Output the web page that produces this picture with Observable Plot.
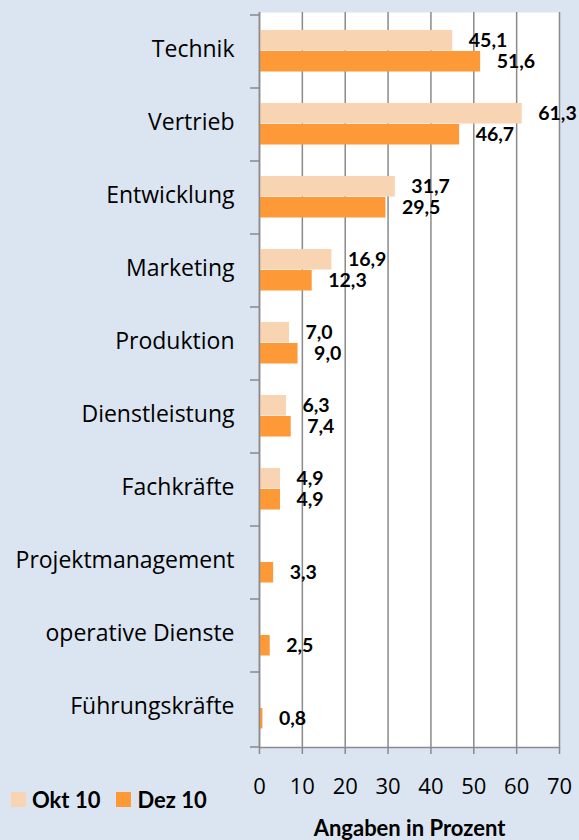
<!DOCTYPE html>
<html>
<head>
<meta charset="utf-8">
<script src="https://cdn.jsdelivr.net/npm/d3@7"></script>
<script src="https://cdn.jsdelivr.net/npm/@observablehq/plot@0.6"></script>
<style>
  html, body { margin: 0; padding: 0; background: #dbe5f1; }
  #wrap { position: relative; width: 579px; height: 840px; }
  #legend { position: absolute; left: 11px; top: 786px; display: flex; align-items: center; font-family: Lato, sans-serif; font-weight: bold; font-size: 22px; color: #000; }
  #legend .sw { width: 15px; height: 15px; display: inline-block; margin-right: 6px; }
  #legend .item { display: flex; align-items: center; margin-right: 16px; }
</style>
</head>
<body>
<div id="wrap"><div id="chart"></div><div id="legend"></div></div>
<script>
const categories = ["Technik", "Vertrieb", "Entwicklung", "Marketing", "Produktion", "Dienstleistung", "Fachkräfte", "Projektmanagement", "operative Dienste", "Führungskräfte"];
const okt10 = [45.1, 61.3, 31.7, 16.9, 7.0, 6.3, 4.9, null, null, null];
const dez10 = [51.6, 46.7, 29.5, 12.3, 9.0, 7.4, 4.9, 3.3, 2.5, 0.8];
const seriesNames = ["Okt 10", "Dez 10"];
const seriesColors = ["#f8d4b2", "#fd9a37"];
const xTicks = [0, 10, 20, 30, 40, 50, 60, 70];
const xTitle = "Angaben in Prozent";

const de = d3.formatLocale({decimal: ",", thousands: ".", grouping: [3], currency: ["", "€"]});
const fmt = de.format(".1f");

const oktRows = categories.map((c, i) => ({category: c, value: okt10[i]})).filter(d => d.value != null);
const dezRows = categories.map((c, i) => ({category: c, value: dez10[i]})).filter(d => d.value != null);

const axisColor = "#8a8a8a";
const font = "'Open Sans', Lato, sans-serif";
const boldFont = "Lato, 'Open Sans', sans-serif";

const plot = Plot.plot({
  width: 579,
  height: 840,
  marginLeft: 259,
  marginRight: 20,
  marginTop: 12,
  marginBottom: 93,
  style: {background: "transparent", fontFamily: font, color: "#000"},
  x: {domain: [0, 70]},
  y: {domain: categories, paddingInner: 0, paddingOuter: 0},
  marks: [
    Plot.frame({fill: "white", stroke: null}),
    Plot.gridX({ticks: xTicks, stroke: axisColor, strokeOpacity: 1, strokeWidth: 1.5}),
    Plot.barX(oktRows, {x: "value", y: "category", fill: seriesColors[0], insetTop: 15, insetBottom: 37.5}),
    Plot.barX(dezRows, {x: "value", y: "category", fill: seriesColors[1], insetTop: 36, insetBottom: 16.5}),
    Plot.text(oktRows, {x: "value", y: "category", text: d => fmt(d.value), dx: 16, dy: -11.75, textAnchor: "start", fontFamily: boldFont, fontWeight: "bold", fontSize: 19.5, fill: "#000"}),
    Plot.text(dezRows, {x: "value", y: "category", text: d => fmt(d.value), dx: 16, dy: 9.25, textAnchor: "start", fontFamily: boldFont, fontWeight: "bold", fontSize: 19.5, fill: "#000"}),
    Plot.ruleX([0], {stroke: axisColor, strokeWidth: 1.5}),
    Plot.frame({anchor: "bottom", stroke: axisColor, strokeWidth: 1.5}),
    Plot.axisX({ticks: xTicks, tickSize: 7, tickPadding: 24, fontSize: 22, stroke: axisColor, strokeWidth: 1.5, label: null, tickFormat: d => String(d)}),
    Plot.axisY({tickSize: 0, tickPadding: 25, fontSize: 23, label: null, dy: -2}),
    Plot.text([xTitle], {frameAnchor: "bottom", dy: 88, fontFamily: boldFont, fontWeight: "bold", fontSize: 22, fill: "#000"})
  ]
});

// boundary tick marks on the category axis (Excel style), from Plot's y scale
const ys = plot.scale("y");
const xs = plot.scale("x");
const x0 = xs.apply(0);
const bounds = ys.domain.map(c => ys.apply(c)).concat([ys.range[1]]);
const svg = d3.select(plot.tagName === "svg" ? plot : plot.querySelector("svg"));
svg.append("g").selectAll("line").data(bounds).join("line")
  .attr("x1", x0 - 9).attr("x2", x0)
  .attr("y1", d => d).attr("y2", d => d)
  .attr("stroke", axisColor).attr("stroke-width", 1.5);

document.getElementById("chart").appendChild(plot);

const legend = d3.select("#legend");
seriesNames.forEach((name, i) => {
  const it = legend.append("div").attr("class", "item");
  it.append("span").attr("class", "sw").style("background", seriesColors[i]);
  it.append("span").text(name);
});
</script>
</body>
</html>
